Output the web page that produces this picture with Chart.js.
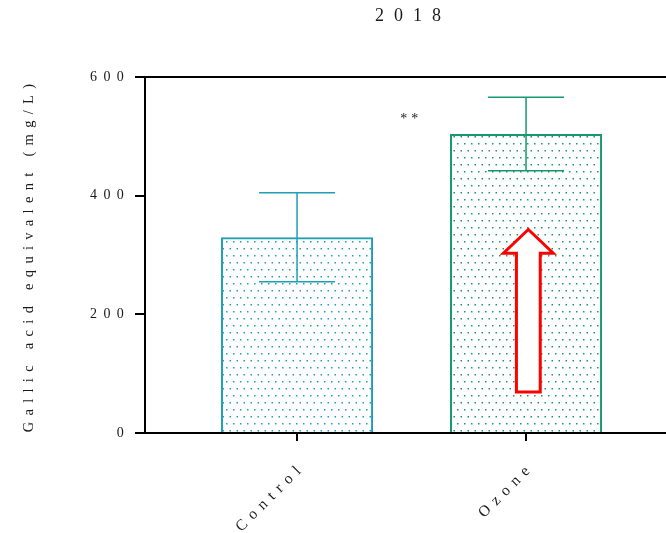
<!DOCTYPE html>
<html>
<head>
<meta charset="utf-8">
<script src="https://cdn.jsdelivr.net/npm/chart.js@4.4.1/dist/chart.umd.min.js"></script>
<style>
  html, body { margin: 0; padding: 0; background: #fff; overflow: hidden; }
  #wrap { position: relative; width: 680px; height: 533px; }
</style>
</head>
<body>
<div id="wrap"><canvas id="c"></canvas></div>
<script>
// Treatment groups and their positions on the x scale
const categories = ['Control', 'Ozone'];
const groupPositions = [1, 2];

// Mean gallic acid equivalent (mg/L) and standard deviation
const means = [330, 504];
const sds = [75, 62];

// Y axis tick values
const yTicks = [0, 200, 400, 600];

const chartTitle = '2018';
const yAxisTitle = 'Gallic acid equivalent (mg/L)';

// Significance marker between the groups
const sigLabel = '**';
const sigPosition = [1.49, 528];

// Upward block arrow over the Ozone bar (data units)
const arrowX = 2.01;
const arrowY = [69, 303, 343];          // tail, head base, tip
const arrowHalfWidths = [0.052, 0.109];  // shaft, head

const colors = ['#1f9fb4', '#17996b'];
const textColor = '#1a1a1a';
const fontFamily = '"Liberation Serif", "Times New Roman", serif';

function dotPattern(color) {
  const t = document.createElement('canvas');
  t.width = 14; t.height = 14;
  const g = t.getContext('2d');
  g.fillStyle = color;
  [[2, 3], [9, 3], [5.5, 10], [12.5, 10]].forEach(([x, y]) => g.fillRect(x, y, 1.5, 1.5));
  return g.createPattern(t, 'repeat');
}

// Wide letter spacing for all chart text; the title gets a wider one
const spacing = {
  id: 'spacing',
  afterInit(chart) {
    const tb = chart.titleBlock;
    if (tb) {
      const orig = tb.draw.bind(tb);
      tb.draw = function (area) {
        const ctx = chart.ctx;
        const prev = ctx.letterSpacing;
        ctx.save();
        ctx.letterSpacing = '10px';
        ctx.translate(5, 0);
        orig(area);
        ctx.restore();
        ctx.letterSpacing = prev;
      };
    }
  },
  beforeUpdate(chart) { chart.ctx.letterSpacing = '6.3px'; },
  beforeLayout(chart) { chart.ctx.letterSpacing = '6.3px'; },
  beforeDraw(chart) { chart.ctx.letterSpacing = '6.3px'; }
};

const errorBars = {
  id: 'errorBars',
  afterDatasetsDraw(chart) {
    const ctx = chart.ctx;
    const xs = chart.scales.x, ys = chart.scales.y;
    const meta = chart.getDatasetMeta(0);
    ctx.save();
    ctx.lineWidth = 1.5;
    means.forEach((m, i) => {
      const x = xs.getPixelForValue(groupPositions[i]);
      const half = meta.data[i].width / 4;
      const yHi = ys.getPixelForValue(m + sds[i]);
      const yLo = ys.getPixelForValue(m - sds[i]);
      ctx.strokeStyle = colors[i];
      ctx.beginPath();
      ctx.moveTo(x, yHi); ctx.lineTo(x, yLo);
      ctx.moveTo(x - half, yHi); ctx.lineTo(x + half, yHi);
      ctx.moveTo(x - half, yLo); ctx.lineTo(x + half, yLo);
      ctx.stroke();
    });
    ctx.restore();
  }
};

const annotations = {
  id: 'annotations',
  afterDatasetsDraw(chart) {
    const ctx = chart.ctx;
    const xs = chart.scales.x, ys = chart.scales.y;
    ctx.save();
    // significance stars
    ctx.letterSpacing = '4px';
    ctx.fillStyle = textColor;
    ctx.font = '14px ' + fontFamily;
    ctx.textAlign = 'center';
    ctx.textBaseline = 'middle';
    ctx.fillText(sigLabel, xs.getPixelForValue(sigPosition[0]) + 2, ys.getPixelForValue(sigPosition[1]));
    // arrow
    const px = v => xs.getPixelForValue(v);
    const py = v => ys.getPixelForValue(v);
    const [tail, neck, tip] = arrowY;
    const [sh, hh] = arrowHalfWidths;
    ctx.beginPath();
    ctx.moveTo(px(arrowX - sh), py(tail));
    ctx.lineTo(px(arrowX - sh), py(neck));
    ctx.lineTo(px(arrowX - hh), py(neck));
    ctx.lineTo(px(arrowX), py(tip));
    ctx.lineTo(px(arrowX + hh), py(neck));
    ctx.lineTo(px(arrowX + sh), py(neck));
    ctx.lineTo(px(arrowX + sh), py(tail));
    ctx.closePath();
    ctx.fillStyle = '#fff';
    ctx.fill();
    ctx.lineWidth = 3;
    ctx.lineJoin = 'miter';
    ctx.strokeStyle = '#ff0000';
    ctx.stroke();
    ctx.restore();
  }
};

const canvas = document.getElementById('c');
new Chart(canvas, {
  type: 'bar',
  data: {
    datasets: [{
      data: groupPositions.map((x, i) => ({ x, y: means[i] })),
      backgroundColor: colors.map(dotPattern),
      borderColor: colors,
      borderWidth: 2,
      borderSkipped: 'bottom',
      categoryPercentage: 1,
      barPercentage: 0.664
    }]
  },
  options: {
    responsive: true,
    maintainAspectRatio: false,
    animation: false,
    layout: { padding: { left: 0, right: 9, top: 0, bottom: 0 } },
    plugins: {
      legend: { display: false },
      tooltip: { enabled: false },
      title: {
        display: true,
        text: chartTitle,
        fullSize: false,
        color: textColor,
        font: { family: fontFamily, size: 18, weight: 'normal' },
        padding: { top: 5, bottom: 50.4 }
      }
    },
    scales: {
      x: {
        type: 'linear',
        offset: false,
        min: 0.336,
        max: 2.633,
        afterBuildTicks(s) { s.ticks = groupPositions.map(v => ({ value: v })); },
        afterFit(s) { s.height = 100; },
        ticks: {
          minRotation: 45,
          maxRotation: 45,
          autoSkip: false,
          color: textColor,
          padding: 17,
          labelOffset: 6,
          font: { family: fontFamily, size: 15.5 },
          callback: (v) => categories[groupPositions.indexOf(v)] ?? ''
        },
        grid: { offset: false, drawOnChartArea: false, color: '#000', lineWidth: 2, tickLength: 8, tickColor: '#000', tickWidth: 2 },
        border: { display: true, color: '#000', width: 2 }
      },
      y: {
        min: 0,
        max: 600,
        afterBuildTicks(s) { s.ticks = yTicks.map(v => ({ value: v })); },
        afterFit(s) { s.width = 145; },
        ticks: {
          color: textColor,
          padding: 5,
          font: { family: fontFamily, size: 14 }
        },
        grid: {
          drawOnChartArea: true,
          color: (c) => (c.tick && c.tick.value === 600 ? '#000' : 'rgba(0,0,0,0)'),
          lineWidth: 2,
          tickLength: 10,
          tickColor: '#000',
          tickWidth: 2
        },
        border: { display: true, color: '#000', width: 2 },
        title: {
          display: true,
          text: yAxisTitle,
          color: textColor,
          padding: { top: 20, bottom: 0 },
          font: { family: fontFamily, size: 14.5 }
        }
      }
    }
  },
  plugins: [spacing, errorBars, annotations]
});
</script>
</body>
</html>
